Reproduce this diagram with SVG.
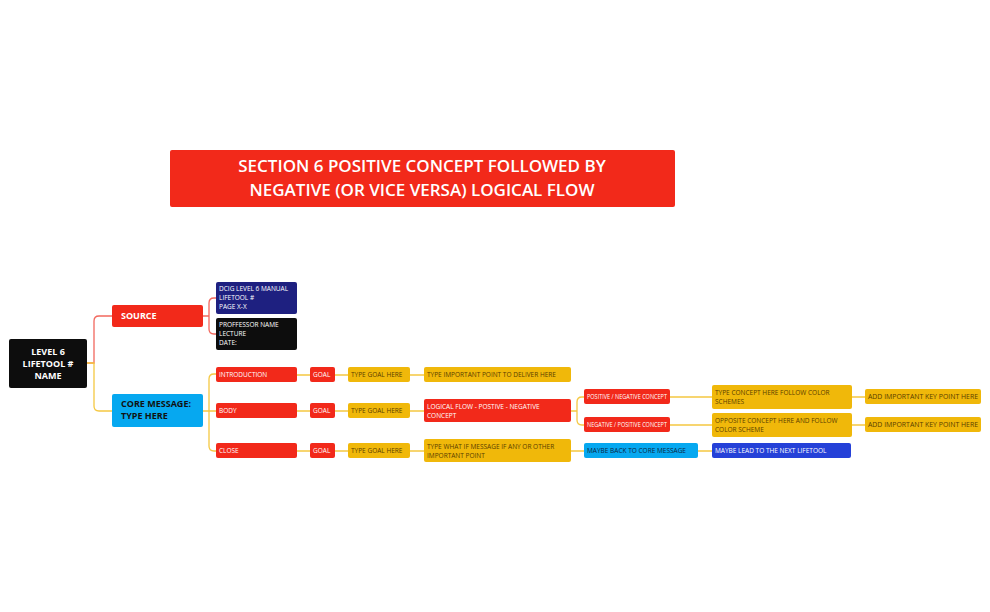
<svg xmlns="http://www.w3.org/2000/svg" width="990" height="612" viewBox="0 0 990 612">
<style>
text{font-family:"Open Sans","Liberation Sans",sans-serif;}
.s{font-size:6.5px;fill:#fff}
.d{font-size:6.5px;fill:#5a3d00}
.r{fill:#f2291a}.y{fill:#f0b80a}
.c{fill:none;stroke-width:1.3}
.cr{stroke:#f2685e}.cy{stroke:#f5c842}
</style>
<rect width="990" height="612" fill="#fff"/>
<g id="connectors">
<path class="c cr" d="M87 363 H94 V321 Q94 316 99 316 H112"/>
<path class="c cy" d="M87 363 H94 V406 Q94 411 99 411 H112"/>
<path class="c cr" d="M203 316 H209 V303 Q209 298 214 298 H216 M209 316 V329 Q209 334 214 334 H216"/>
<path class="c cy" d="M203 411 H209 M209 379 Q209 374 214 374 H216 M209 379 V446 Q209 451 214 451 H216 M209 411 H216"/>
<path class="c cy" d="M297 375 H310 M335 375 H348 M410 375 H424 M297 411 H310 M335 411 H348 M410 411 H424 M297 451 H310 M335 451 H348 M410 451 H424 M571 451 H584 M698 451 H712"/>
<path class="c cy" d="M571 411 H577 V402 Q577 397 582 397 H584 M577 411 V420 Q577 425 582 425 H584 M670 397 H712 M670 425 H712 M852 397 H865 M852 425 H865"/>
</g>
<g id="title"><rect x="170" y="150" width="505" height="57" rx="2" class="r"/>
<text x="422" y="172" font-size="17" font-weight="600" fill="#fff" text-anchor="middle">SECTION 6 POSITIVE CONCEPT FOLLOWED BY</text>
<text x="422" y="196" font-size="17" font-weight="600" fill="#fff" text-anchor="middle">NEGATIVE (OR VICE VERSA) LOGICAL FLOW</text></g>
<g id="root"><rect x="9" y="339" width="78" height="49" rx="2" fill="#0d0d0d"/>
<text x="48" y="355" font-size="9" font-weight="bold" fill="#fff" text-anchor="middle">LEVEL 6</text>
<text x="48" y="367" font-size="9" font-weight="bold" fill="#fff" text-anchor="middle">LIFETOOL #</text>
<text x="48" y="379" font-size="9" font-weight="bold" fill="#fff" text-anchor="middle">NAME</text></g>
<g id="source"><rect x="112" y="305" width="91" height="22" rx="2" class="r"/><text x="121" y="319" font-size="9" font-weight="bold" fill="#fff">SOURCE</text></g>
<g id="core"><rect x="112" y="394" width="91" height="33" rx="2" fill="#06a8f0"/><text x="121" y="407" font-size="9" font-weight="bold" fill="#111">CORE MESSAGE:</text><text x="121" y="419" font-size="9" font-weight="bold" fill="#111">TYPE HERE</text></g>
<g id="manual"><rect x="216" y="282" width="81" height="32" rx="2" fill="#1e2080"/><text class="s" x="219" y="291">DCIG LEVEL 6 MANUAL</text><text class="s" x="219" y="300">LIFETOOL #</text><text class="s" x="219" y="309">PAGE X-X</text></g>
<g id="prof"><rect x="216" y="318" width="81" height="32" rx="2" fill="#0d0d0d"/><text class="s" x="219" y="327">PROFFESSOR NAME</text><text class="s" x="219" y="336">LECTURE</text><text class="s" x="219" y="345">DATE:</text></g>
<g id="intro"><rect x="216" y="367" width="81" height="15" rx="2" class="r"/><text class="s" x="219" y="377">INTRODUCTION</text></g>
<g id="body"><rect x="216" y="403" width="81" height="15" rx="2" class="r"/><text class="s" x="219" y="413">BODY</text></g>
<g id="close"><rect x="216" y="443" width="81" height="15" rx="2" class="r"/><text class="s" x="219" y="453">CLOSE</text></g>
<g id="goal1"><rect x="310" y="367" width="25" height="15" rx="2" class="r"/><text class="s" x="313" y="377">GOAL</text></g>
<g id="goal2"><rect x="310" y="403" width="25" height="15" rx="2" class="r"/><text class="s" x="313" y="413">GOAL</text></g>
<g id="goal3"><rect x="310" y="443" width="25" height="15" rx="2" class="r"/><text class="s" x="313" y="453">GOAL</text></g>
<g id="tg1"><rect x="348" y="367" width="62" height="15" rx="2" class="y"/><text class="d" x="351" y="377">TYPE GOAL HERE</text></g>
<g id="tg2"><rect x="348" y="403" width="62" height="15" rx="2" class="y"/><text class="d" x="351" y="413">TYPE GOAL HERE</text></g>
<g id="tg3"><rect x="348" y="443" width="62" height="15" rx="2" class="y"/><text class="d" x="351" y="453">TYPE GOAL HERE</text></g>
<g id="imp"><rect x="424" y="367" width="147" height="15" rx="2" class="y"/><text class="d" x="427" y="377">TYPE IMPORTANT POINT TO DELIVER HERE</text></g>
<g id="logic"><rect x="424" y="399" width="147" height="23" rx="2" class="r"/><text class="s" x="427" y="409">LOGICAL FLOW - POSTIVE - NEGATIVE</text><text class="s" x="427" y="418">CONCEPT</text></g>
<g id="whatif"><rect x="424" y="439" width="147" height="23" rx="2" class="y"/><text class="d" x="427" y="449">TYPE WHAT IF MESSAGE IF ANY OR OTHER</text><text class="d" x="427" y="458">IMPORTANT POINT</text></g>
<g id="posneg"><rect x="584" y="389" width="86" height="15" rx="2" class="r"/><text class="s" x="587" y="399" textLength="80" lengthAdjust="spacingAndGlyphs">POSITIVE / NEGATIVE CONCEPT</text></g>
<g id="negpos"><rect x="584" y="417" width="86" height="15" rx="2" class="r"/><text class="s" x="587" y="427" textLength="80" lengthAdjust="spacingAndGlyphs">NEGATIVE / POSITIVE CONCEPT</text></g>
<g id="tc"><rect x="712" y="385" width="140" height="24" rx="2" class="y"/><text class="d" x="715" y="395">TYPE CONCEPT HERE FOLLOW COLOR</text><text class="d" x="715" y="404">SCHEMES</text></g>
<g id="opp"><rect x="712" y="413" width="140" height="24" rx="2" class="y"/><text class="d" x="715" y="423">OPPOSITE CONCEPT HERE AND FOLLOW</text><text class="d" x="715" y="432">COLOR SCHEME</text></g>
<g id="key1"><rect x="865" y="389" width="116" height="15" rx="2" class="y"/><text class="d" x="868" y="399" textLength="110" lengthAdjust="spacingAndGlyphs">ADD IMPORTANT KEY POINT HERE</text></g>
<g id="key2"><rect x="865" y="417" width="116" height="15" rx="2" class="y"/><text class="d" x="868" y="427" textLength="110" lengthAdjust="spacingAndGlyphs">ADD IMPORTANT KEY POINT HERE</text></g>
<g id="back"><rect x="584" y="443" width="114" height="15" rx="2" fill="#06a8f0"/><text x="587" y="453" font-size="6.5" fill="#0b2540">MAYBE BACK TO CORE MESSAGE</text></g>
<g id="lead"><rect x="712" y="443" width="139" height="15" rx="2" fill="#2541d8"/><text class="s" x="715" y="453">MAYBE LEAD TO THE NEXT LIFETOOL</text></g>
</svg>
